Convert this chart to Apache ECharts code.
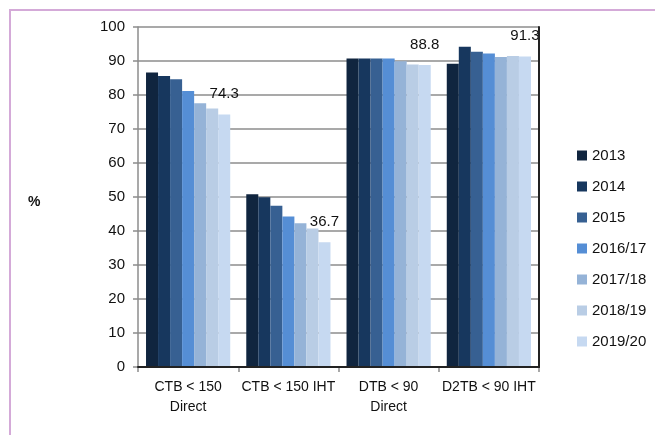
<!DOCTYPE html>
<html>
<head>
<meta charset="utf-8">
<script src="https://cdn.jsdelivr.net/npm/echarts@6/dist/echarts.min.js"></script>
<style>
  html, body { margin: 0; padding: 0; background: #fff; }
  #chart { width: 655px; height: 435px; }
</style>
</head>
<body>
<div id="chart"></div>
<script>
// categories and series
var categories = ['CTB < 150\nDirect', 'CTB < 150 IHT', 'DTB < 90\nDirect', 'D2TB < 90 IHT']
var years = ['2013', '2014', '2015', '2016/17', '2017/18', '2018/19', '2019/20']
var v2013 = [86.6, 50.8, 90.7, 89.2]
var v2014 = [85.6, 49.9, 90.7, 94.2]
var v2015 = [84.6, 47.4, 90.7, 92.7]
var v2016 = [81.2, 44.3, 90.7, 92.2]
var v2017 = [77.6, 42.3, 89.9, 91.2]
var v2018 = [76.0, 40.7, 89.0, 91.5]
var v2019 = [74.3, 36.7, 88.8, 91.3]
var yTicks = [0, 10, 20, 30, 40, 50, 60, 70, 80, 90, 100]

var allValues = [v2013, v2014, v2015, v2016, v2017, v2018, v2019]
var colors = ['#10253F', '#17375E', '#376092', '#558ED5', '#95B3D7', '#B9CDE5', '#C6D9F1']
var font = 'Liberation Sans, Arial, sans-serif'

var series = years.map(function (y, i) {
  var s = {
    name: y,
    type: 'bar',
    barGap: '0%',
    barCategoryGap: '16%',
    itemStyle: { color: colors[i] },
    data: allValues[i]
  }
  // only the latest year carries value labels
  if (i === years.length - 1) {
    s.label = {
      show: true,
      position: 'top',
      distance: 13,
      color: '#111',
      fontFamily: font,
      fontSize: 15,
      formatter: function (p) { return p.value.toFixed(1) }
    }
  }
  return s
})

var chart = echarts.init(document.getElementById('chart'))
chart.setOption({
  backgroundColor: '#fff',
  animation: false,
  textStyle: { fontFamily: font },
  grid: { left: 138, right: 116, top: 27, bottom: 68 },
  legend: {
    orient: 'vertical',
    left: 572,
    top: 143,
    itemWidth: 10,
    itemHeight: 10,
    itemGap: 16,
    icon: 'rect',
    textStyle: { fontSize: 15, color: '#111', fontFamily: font },
    data: years
  },
  graphic: [{
    type: 'rect',
    silent: true,
    shape: { x: 10, y: 10, width: 700, height: 500 },
    style: { fill: 'none', stroke: '#d4aad8', lineWidth: 2 }
  }, {
    type: 'text',
    left: 28,
    top: 195,
    style: { text: '%', fontSize: 14, fontWeight: 'bold', fill: '#111', fontFamily: font }
  }],
  xAxis: [{
    type: 'category',
    data: categories,
    axisLine: { lineStyle: { color: '#8c8c8c', width: 1.5 } },
    axisTick: { show: true, length: 5, lineStyle: { color: '#8c8c8c', width: 1.5 } },
    axisLabel: { interval: 0, color: '#111', fontSize: 14, margin: 10, lineHeight: 20, fontFamily: font }
  }, {
    type: 'category',
    position: 'top',
    z: 5,
    data: categories,
    axisLine: { lineStyle: { color: '#222', width: 2 } },
    axisTick: { show: false },
    axisLabel: { show: false }
  }],
  yAxis: [{
    type: 'value',
    min: yTicks[0],
    max: yTicks[yTicks.length - 1],
    interval: 10,
    axisLine: { show: true, lineStyle: { color: '#8c8c8c', width: 1.5 } },
    axisTick: { show: true, length: 5, lineStyle: { color: '#8c8c8c', width: 1.5 } },
    axisLabel: { color: '#111', fontSize: 15, margin: 13, fontFamily: font },
    splitLine: { lineStyle: { color: '#8c8c8c', width: 1.5 } }
  }, {
    type: 'value',
    position: 'right',
    z: 5,
    min: yTicks[0],
    max: yTicks[yTicks.length - 1],
    interval: 10,
    axisLine: { show: true, lineStyle: { color: '#222', width: 2 } },
    axisTick: { show: false },
    axisLabel: { show: false },
    splitLine: { show: false }
  }],
  series: series
})
</script>
</body>
</html>
